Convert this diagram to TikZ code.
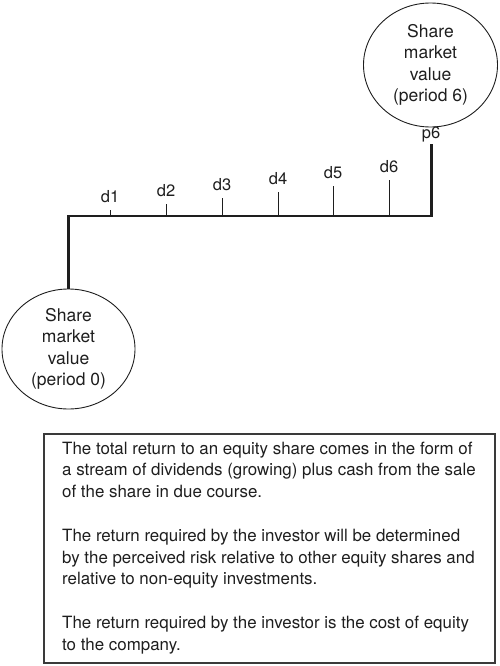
\documentclass[tikz,border=0pt]{standalone}
\usepackage{fontspec}
\setmainfont{TeX Gyre Heros}
\usetikzlibrary{shapes.geometric}
\definecolor{ink}{HTML}{1E1E1E}
\definecolor{boxline}{HTML}{3A3A3A}
\tikzset{
  valuecircle/.style={ellipse, draw=ink, line width=0.9pt, inner sep=0pt,
    align=center, text=ink, font=\fontsize{17.5pt}{21.3pt}\selectfont},
  thickline/.style={draw=ink, line width=3pt},
  thinline/.style={draw=ink, line width=1.3pt},
  tickline/.style={draw=ink, line width=1pt},
  lbl/.style={text=ink, inner sep=0pt, font=\fontsize{16.5pt}{19pt}\selectfont},
  notebox/.style={draw=boxline, line width=1.3pt, minimum width=451pt, minimum height=229pt,
    inner sep=0pt},
  notetext/.style={inner sep=0pt, align=left, text=ink,
    font=\fontsize{16.9pt}{21.8pt}\selectfont}
}
\begin{document}
\begin{tikzpicture}[x=1pt,y=-1pt]
\useasboundingbox (0,0) rectangle (500,666);
% circles
\node[valuecircle, minimum width=133pt, minimum height=120pt] (c0) at (68.5,349)
  {Share\\market\\value\\(period 0)};
\node[valuecircle, minimum width=134pt, minimum height=124pt] (c6) at (430.5,65)
  {Share\\market\\value\\(period 6)};
% timeline
\coordinate (L) at (68.5,216);
\coordinate (R) at (431,216);
\coordinate (Rtop) at (431,144);
\draw[thickline] (c0.north) -- ([yshift=0.65pt]L);
\draw[thinline] (L) -- (R);
\draw[thickline] ([yshift=-0.65pt]R) -- (Rtop);
\node[lbl, anchor=base] (p6) at (431,139) {p6};
% dividend ticks
\foreach \i/\x/\t in {1/110/210, 2/166/204, 3/222/198, 4/278/192, 5/333/186, 6/389/180}{
  \coordinate (t\i) at (\x,216);
  \coordinate (tt\i) at (\x,\t);
  \draw[tickline] (t\i) -- (tt\i);
  \node[lbl, anchor=base] (d\i) at ([yshift=8pt]tt\i) {d\i};
}
% note box
\node[notebox] (box) at (269.5,548.5) {};
\node[notetext, anchor=north west] (note) at (62,441.5) {%
The total return to an equity share comes in the form of\\
a stream of dividends (growing) plus cash from the sale\\
of the share in due course.\\[21.8pt]
The return required by the investor will be determined\\
by the perceived risk relative to other equity shares and\\
relative to non-equity investments.\\[21.8pt]
The return required by the investor is the cost of equity\\
to the company.};
\end{tikzpicture}
\end{document}
